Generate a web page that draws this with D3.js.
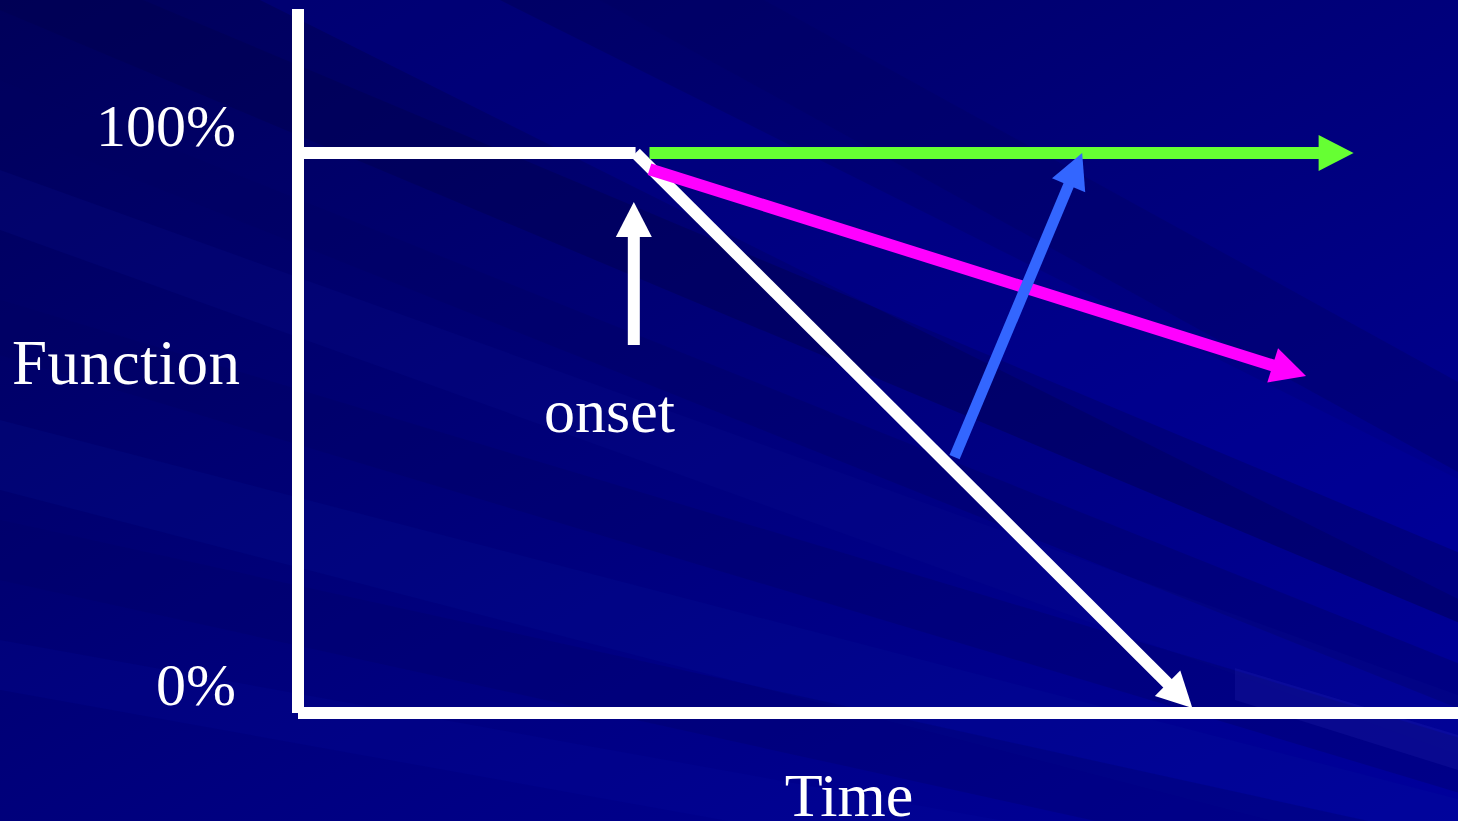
<!DOCTYPE html>
<html>
<head>
<meta charset="utf-8">
<script src="https://cdn.jsdelivr.net/npm/d3@7"></script>
<style>
  html, body { margin: 0; padding: 0; background: #000070; overflow: hidden; }
  svg { display: block; }
  text { font-family: "Liberation Serif", "Times New Roman", serif; fill: #ffffff; }
</style>
</head>
<body>
<svg id="chart" width="1458" height="821"></svg>
<script>
// Time axis runs 0..100, function axis runs 0..100 %
const yTicks = [
  { label: "100%", value: 100 },
  { label: "0%", value: 0 }
];
const axisTitles = { y: "Function", x: "Time" };
const axisTop = 125.7;      // vertical axis extends above 100 %
const onsetTime = 29.1;

// Pre-onset plateau at full function
const plateau = [[0, 100], [onsetTime, 100]];

// Trajectories after onset: [start, end] in (time, function %)
const untreated = [[onsetTime, 100], [77.1, 0.9]];
const slowed    = [[30.3, 97.1], [86.9, 60.2]];
const halted    = [[30.3, 100], [91.0, 100]];
const restored  = [[56.6, 45.7], [67.6, 100]];

// Arrow marking the onset point
const onsetArrow = [[28.95, 65.7], [28.95, 91.25]];
const onsetLabel = "onset";

const W = 1458, H = 821;
const svg = d3.select("#chart");

const x = d3.scaleLinear().domain([0, 100]).range([298, 1458]);
const y = d3.scaleLinear().domain([0, 100]).range([713, 153]);

// ---- background: navy gradient with soft diagonal light streaks
const defs = svg.append("defs");
const bg = defs.append("linearGradient").attr("id", "bg")
  .attr("x1", "0").attr("y1", "0").attr("x2", "1").attr("y2", "1");
bg.append("stop").attr("offset", "0%").attr("stop-color", "#00005a");
bg.append("stop").attr("offset", "45%").attr("stop-color", "#000078");
bg.append("stop").attr("offset", "100%").attr("stop-color", "#00009c");
svg.append("rect").attr("width", W).attr("height", H).attr("fill", "url(#bg)");

const streaks = [
  { y0: -60,  slope: 0.42, w: 70,  c: "#000050", o: 0.45 },
  { y0: 80,   slope: 0.40, w: 45,  c: "#000060", o: 0.35 },
  { y0: 170,  slope: 0.36, w: 60,  c: "#0a1090", o: 0.20 },
  { y0: 300,  slope: 0.30, w: 55,  c: "#000060", o: 0.30 },
  { y0: 420,  slope: 0.26, w: 70,  c: "#0a18a0", o: 0.15 },
  { y0: 520,  slope: 0.22, w: 60,  c: "#000068", o: 0.30 },
  { y0: 640,  slope: 0.18, w: 50,  c: "#0810a8", o: 0.15 },
  { y0: -250, slope: 0.50, w: 120, c: "#0000a8", o: 0.25 },
  { y0: -420, slope: 0.55, w: 90,  c: "#000060", o: 0.35 }
];
svg.append("g").selectAll("path").data(streaks).join("path")
  .attr("d", s => `M0,${s.y0} L${W},${s.y0 + s.slope * W} L${W},${s.y0 + s.slope * W + s.w} L0,${s.y0 + s.w} Z`)
  .attr("fill", d => d.c).attr("opacity", d => d.o);
// faint bright wedge near the lower right
svg.append("path")
  .attr("d", `M1235,668 L${W},735 L${W},770 L1235,700 Z`)
  .attr("fill", "#3a3acc").attr("opacity", 0.15);

// ---- axes
const axisW = 12;
const axes = svg.append("g").attr("stroke", "#ffffff").attr("stroke-width", axisW).attr("fill", "none");
axes.append("line")
  .attr("x1", x(0)).attr("x2", x(0))
  .attr("y1", y(axisTop)).attr("y2", y(0));
axes.append("line")
  .attr("x1", x(0)).attr("x2", x(100))
  .attr("y1", y(0)).attr("y2", y(0));

// ---- arrows drawn as shaft + triangular head
const headLen = 35, headHalf = 18;
function drawArrow(g, pts, color, width, withHead = true) {
  const [p0, p1] = pts.map(d => [x(d[0]), y(d[1])]);
  const dx = p1[0] - p0[0], dy = p1[1] - p0[1];
  const len = Math.hypot(dx, dy);
  const ux = dx / len, uy = dy / len;
  const bx = p1[0] - ux * headLen, by = p1[1] - uy * headLen;
  const shaftEnd = withHead ? [bx + ux * 2, by + uy * 2] : p1;
  g.append("line")
    .attr("x1", p0[0]).attr("y1", p0[1])
    .attr("x2", shaftEnd[0]).attr("y2", shaftEnd[1])
    .attr("stroke", color).attr("stroke-width", width);
  if (withHead) {
    const nx = -uy, ny = ux;
    g.append("path")
      .attr("d", d3.line()([
        p1,
        [bx + nx * headHalf, by + ny * headHalf],
        [bx - nx * headHalf, by - ny * headHalf]
      ]) + "Z")
      .attr("fill", color);
  }
}

const marks = svg.append("g");
// plateau before onset
marks.append("line")
  .attr("x1", x(0)).attr("x2", x(plateau[1][0]))
  .attr("y1", y(plateau[0][1])).attr("y2", y(plateau[1][1]))
  .attr("stroke", "#ffffff").attr("stroke-width", axisW);

drawArrow(marks, untreated, "#ffffff", 12);
drawArrow(marks, halted, "#66ff33", 12);
drawArrow(marks, slowed, "#ff00ff", 12);
drawArrow(marks, restored, "#3366ff", 11);
drawArrow(marks, onsetArrow, "#ffffff", 12);

// ---- labels
svg.append("g").selectAll("text").data(yTicks).join("text")
  .attr("x", 236)
  .attr("y", d => d.value === 100 ? y(d.value) - 7 : y(d.value) - 8)
  .attr("text-anchor", "end")
  .attr("font-size", 60)
  .text(d => d.label);

svg.append("text")
  .attr("x", 12).attr("y", 384)
  .attr("font-size", 63)
  .attr("textLength", 228)
  .text(axisTitles.y);

svg.append("text")
  .attr("x", x(onsetTime) - 26).attr("y", 432)
  .attr("text-anchor", "middle")
  .attr("font-size", 62)
  .text(onsetLabel);

svg.append("text")
  .attr("x", 849).attr("y", 816)
  .attr("text-anchor", "middle")
  .attr("font-size", 62)
  .text(axisTitles.x);
</script>
</body>
</html>
